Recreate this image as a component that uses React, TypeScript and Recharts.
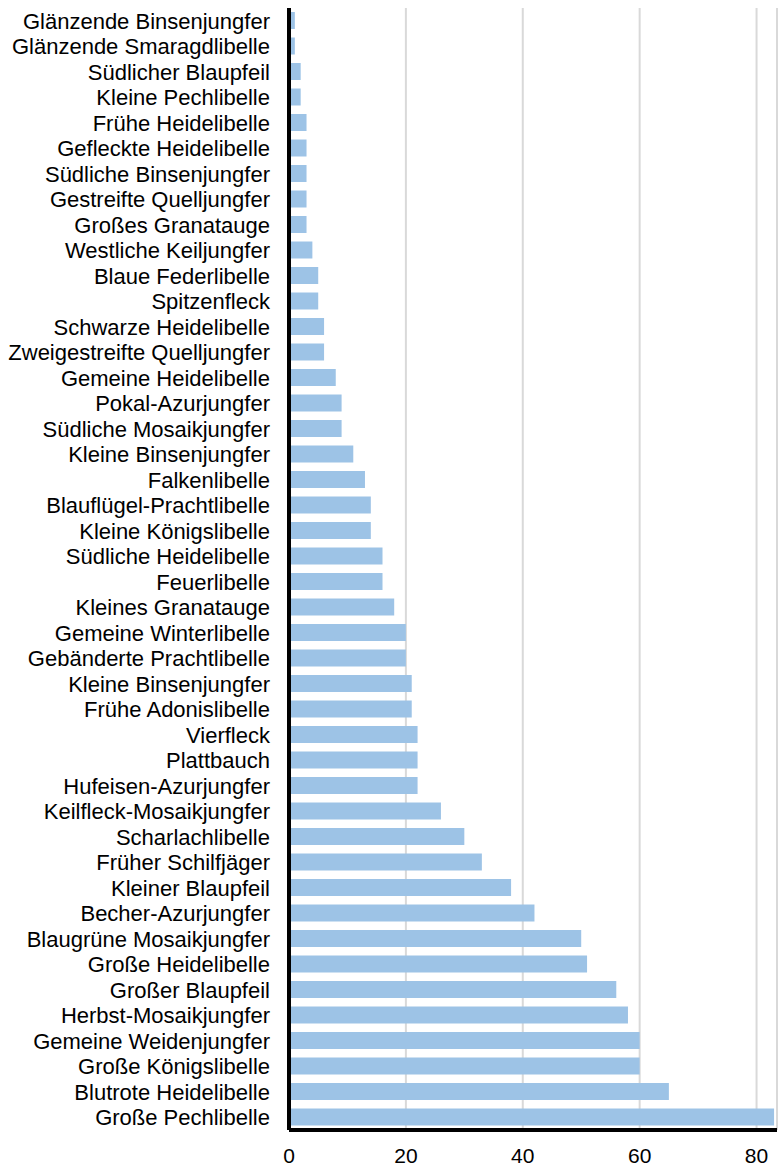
import React from 'react';
import { BarChart, Bar, XAxis, YAxis, CartesianGrid } from 'recharts';

const species = [
  'Glänzende Binsenjungfer',
  'Glänzende Smaragdlibelle',
  'Südlicher Blaupfeil',
  'Kleine Pechlibelle',
  'Frühe Heidelibelle',
  'Gefleckte Heidelibelle',
  'Südliche Binsenjungfer',
  'Gestreifte Quelljungfer',
  'Großes Granatauge',
  'Westliche Keiljungfer',
  'Blaue Federlibelle',
  'Spitzenfleck',
  'Schwarze Heidelibelle',
  'Zweigestreifte Quelljungfer',
  'Gemeine Heidelibelle',
  'Pokal-Azurjungfer',
  'Südliche Mosaikjungfer',
  'Kleine Binsenjungfer',
  'Falkenlibelle',
  'Blauflügel-Prachtlibelle',
  'Kleine Königslibelle',
  'Südliche Heidelibelle',
  'Feuerlibelle',
  'Kleines Granatauge',
  'Gemeine Winterlibelle',
  'Gebänderte Prachtlibelle',
  'Kleine Binsenjungfer ',
  'Frühe Adonislibelle',
  'Vierfleck',
  'Plattbauch',
  'Hufeisen-Azurjungfer',
  'Keilfleck-Mosaikjungfer',
  'Scharlachlibelle',
  'Früher Schilfjäger',
  'Kleiner Blaupfeil',
  'Becher-Azurjungfer',
  'Blaugrüne Mosaikjungfer',
  'Große Heidelibelle',
  'Großer Blaupfeil',
  'Herbst-Mosaikjungfer',
  'Gemeine Weidenjungfer',
  'Große Königslibelle',
  'Blutrote Heidelibelle',
  'Große Pechlibelle',
];

const counts = [
  1, 1, 2, 2, 3, 3, 3, 3, 3, 4, 5, 5, 6, 6, 8, 9, 9, 11, 13, 14, 14, 16, 16, 18,
  20, 20, 21, 21, 22, 22, 22, 26, 30, 33, 38, 42, 50, 51, 56, 58, 60, 60, 65, 83,
];

const xTicks = [0, 20, 40, 60, 80];

const data = species.map((name, i) => ({ name, value: counts[i] }));

const fam = '"Liberation Sans", Arial, sans-serif';

export default function App() {
  return (
    <div style={{ position: 'absolute', left: 0, top: 0, background: '#fff' }}>
      <BarChart
        width={778}
        height={1164}
        data={data}
        layout="vertical"
        margin={{ top: 8, right: 1, left: 0, bottom: 0 }}
      >
        <CartesianGrid horizontal={false} stroke="#d9d9d9" strokeWidth={2} />
        <XAxis
          type="number"
          domain={[0, 83.5]}
          ticks={xTicks}
          allowDataOverflow
          height={34}
          tickLine={false}
          tickMargin={12}
          axisLine={{ stroke: '#000', strokeWidth: 4 }}
          tick={{ fontFamily: fam, fontSize: 21, fill: '#000' }}
        />
        <YAxis
          type="category"
          dataKey="name"
          width={289}
          interval={0}
          tickLine={false}
          tickMargin={13}
          axisLine={{ stroke: '#000', strokeWidth: 4 }}
          tick={{ fontFamily: fam, fontSize: 22, fill: '#000' }}
        />
        <Bar dataKey="value" fill="#9dc3e6" barSize={17} isAnimationActive={false} />
      </BarChart>
    </div>
  );
}
